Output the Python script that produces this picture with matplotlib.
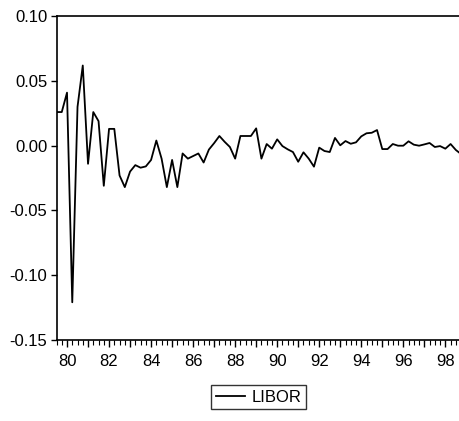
import numpy as np
import pandas as pd
import matplotlib
matplotlib.use("Agg")
import matplotlib.pyplot as plt

# =========================
# DATA
# =========================

START = "1979Q3"

libor = [
    0.026, 0.026, 0.041, -0.121, 0.030, 0.062, -0.014, 0.026, 0.019, -0.031,
    0.013, 0.013, -0.023, -0.032, -0.020, -0.015, -0.017, -0.016, -0.011, 0.004,
    -0.010, -0.032, -0.011, -0.032, -0.006, -0.010, -0.008, -0.006, -0.013, -0.003,
    0.002, 0.0075, 0.003, -0.001, -0.010, 0.0075, 0.0075, 0.0075, 0.0134, -0.010,
    0.0013, -0.0023, 0.0049, -0.0003, -0.0028, -0.0049, -0.0124, -0.0051, -0.010, -0.0162,
    -0.0015, -0.0041, -0.0049, 0.006, 0.0003, 0.0036, 0.0015, 0.0026, 0.0072, 0.0096,
    0.010, 0.0121, -0.0026, -0.0026, 0.0013, 0.0, 0.0, 0.0034, 0.0008, 0.0,
    0.001, 0.0021, -0.001, -0.0003, -0.0023, 0.0013, -0.0033, -0.0065,
]

y_ticks = [0.10, 0.05, 0.00, -0.05, -0.10, -0.15]
y_tick_labels = ["0.10", "0.05", "0.00", "-0.05", "-0.10", "-0.15"]

periods = pd.period_range(START, periods=len(libor), freq="Q")
x = np.arange(len(libor))

# =========================
# PLOT
# =========================

plt.rcParams["font.family"] = ["Liberation Sans", "DejaVu Sans"]
plt.rcParams["axes.unicode_minus"] = False

W, H = 459, 421
fig = plt.figure(figsize=(W / 100, H / 100), dpi=100)

left = 56.5 / W
bottom = (H - 339.8) / H
top = (H - 16.3) / H
width = (461.1 - 56.5) / W
ax = fig.add_axes([left, bottom, width, top - bottom])

line, = ax.plot(x, libor, color="black", linewidth=1.3, label="LIBOR")

ax.set_xlim(0, len(libor) - 1)
ax.set_ylim(-0.15, 0.10)

ax.set_yticks(y_ticks)
ax.set_yticklabels(y_tick_labels)

# year ticks at first quarter, labels every second year
q1 = [i for i, p in enumerate(periods) if p.quarter == 1]
ax.set_xticks(q1)
ax.set_xticklabels([f"{periods[i].year % 100:02d}" if periods[i].year % 2 == 0 else ""
                    for i in q1])
ax.set_xticks(x, minor=True)

ax.spines["right"].set_visible(False)
for s in ["left", "top", "bottom"]:
    ax.spines[s].set_linewidth(1.2)

ax.tick_params(axis="x", which="major", direction="out", length=5, width=1,
               pad=5, labelsize=12)
ax.tick_params(axis="x", which="minor", direction="out", length=3.5, width=0.8)
ax.tick_params(axis="y", direction="out", length=4, width=1, pad=2.5, labelsize=12)

leg = fig.legend(handles=[line], loc="center",
                 bbox_to_anchor=(258.5 / W, 1 - 397 / H),
                 frameon=True, fancybox=False, fontsize=12,
                 handlelength=1.75, handletextpad=0.4,
                 borderpad=0.25, borderaxespad=0)
leg.get_frame().set_edgecolor("black")
leg.get_frame().set_linewidth(1.0)

fig.savefig("out.png", dpi=100)
